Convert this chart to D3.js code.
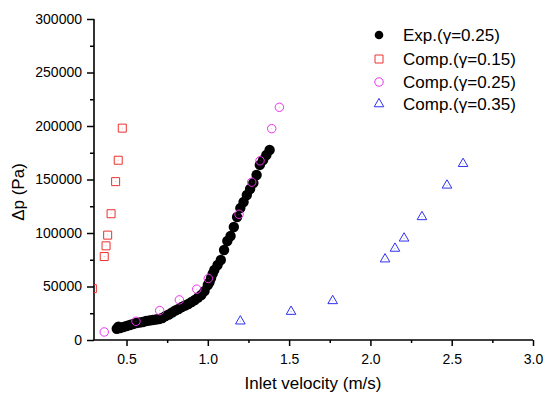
<!DOCTYPE html>
<html>
<head>
<meta charset="utf-8">
<script src="https://cdnjs.cloudflare.com/ajax/libs/d3/7.8.5/d3.min.js"></script>
<style>
  html, body { margin: 0; padding: 0; background: #fff; }
  svg { display: block; font-family: Arial, "Liberation Sans", sans-serif; }
</style>
</head>
<body>
<svg id="chart" width="544" height="395"></svg>
<script>
// ---- Data ----
const expX = [0.44,0.45,0.46,0.48,0.50,0.52,0.54,0.56,0.58,0.60,0.62,0.64,0.66,0.68,0.70,0.72,0.74,0.76,0.78,0.80,0.82,0.84,0.86,0.88,0.90,0.92,0.94,0.96,0.98,1.00,1.01,1.02,1.03,1.04,1.06,1.08,1.10,1.12,1.14,1.16,1.18,1.20,1.22,1.24,1.26,1.28,1.30,1.32,1.34,1.36,1.38];
const expY = [10500,12500,11200,12100,13100,14000,15000,15900,16400,16800,17800,18200,18700,19200,19600,20600,22400,23800,25700,27600,29000,30800,32200,33600,35500,37400,39700,42100,45800,51400,54000,57900,62000,65400,70100,74800,84100,92500,97200,105600,115000,123300,129000,135500,141100,146700,154200,163600,168200,172900,177600];

const comp15X = [0.29,0.363,0.374,0.384,0.405,0.433,0.449,0.474];
const comp15Y = [48000,78000,88000,98000,118000,148000,168000,198000];

const comp25X = [0.363,0.558,0.704,0.825,0.932,1.003,1.192,1.270,1.321,1.393,1.440];
const comp25Y = [7500,17500,27500,37500,47500,57500,117500,147500,167500,197500,217500];

const comp35X = [1.200,1.512,1.768,2.090,2.151,2.207,2.317,2.471,2.570];
const comp35Y = [18500,27500,37500,76500,86500,96000,116000,145500,165700];

const xTickValues = [0.5,1.0,1.5,2.0,2.5,3.0];
const xMinorTicks = [0.75,1.25,1.75,2.25,2.75];
const yTickValues = [0,50000,100000,150000,200000,250000,300000];
const yMinorTicks = [25000,75000,125000,175000,225000,275000];

const legendLabels = ["Exp.(\u03b3=0.25)","Comp.(\u03b3=0.15)","Comp.(\u03b3=0.25)","Comp.(\u03b3=0.35)"];
const xTitle = "Inlet velocity (m/s)";
const yTitle = "\u0394p (Pa)";

// ---- Layout ----
const svg = d3.select("#chart");
const pLeft = 94, pRight = 533, pTop = 19, pBottom = 340;

const x = d3.scaleLinear().domain([0.3, 3.0]).range([pLeft, pRight]);
const y = d3.scaleLinear().domain([0, 300000]).range([pBottom, pTop]);

const colors = { exp: "#000000", c15: "#ee3030", c25: "#ee30ee", c35: "#3030ee" };

svg.append("defs").append("clipPath").attr("id", "plotclip")
  .append("rect").attr("x", pLeft).attr("y", 0).attr("width", pRight - pLeft + 10).attr("height", pBottom);

// ---- Axes ----
const fontTick = "14px";
const xAxis = d3.axisBottom(x).tickValues(xTickValues).tickFormat(d3.format(".1f")).tickSize(6).tickSizeOuter(0);
const gx = svg.append("g").attr("transform", `translate(0,${pBottom})`).call(xAxis);
gx.select(".domain").attr("stroke-width", 1.6).attr("d", `M${pLeft},0H${pRight}`);
gx.selectAll(".tick line").attr("stroke-width", 1.5);
gx.selectAll(".tick text").attr("font-size", fontTick).attr("font-family", "Arial, 'Liberation Sans', sans-serif").attr("fill", "#000").attr("dy", "0.71em").attr("y", 14);
const gxm = svg.append("g").attr("transform", `translate(0,${pBottom})`)
  .call(d3.axisBottom(x).tickValues(xMinorTicks).tickFormat("").tickSize(3).tickSizeOuter(0));
gxm.select(".domain").remove();
gxm.selectAll(".tick line").attr("stroke-width", 1.5);

const yAxis = d3.axisLeft(y).tickValues(yTickValues).tickFormat(d3.format("d")).tickSize(7).tickSizeOuter(0);
const gy = svg.append("g").attr("transform", `translate(${pLeft},0)`).call(yAxis);
gy.select(".domain").attr("stroke-width", 1.6).attr("d", `M0,${pBottom}V${pTop}`);
gy.selectAll(".tick line").attr("stroke-width", 1.5);
gy.selectAll(".tick text").attr("font-size", fontTick).attr("font-family", "Arial, 'Liberation Sans', sans-serif").attr("fill", "#000").attr("x", -12);
const gym = svg.append("g").attr("transform", `translate(${pLeft},0)`)
  .call(d3.axisLeft(y).tickValues(yMinorTicks).tickFormat("").tickSize(4).tickSizeOuter(0));
gym.select(".domain").remove();
gym.selectAll(".tick line").attr("stroke-width", 1.5);

// Titles
svg.append("text").attr("x", 313).attr("y", 389).attr("text-anchor", "middle")
  .attr("font-size", "17px").attr("fill", "#000").text(xTitle);
svg.append("text").attr("transform", "translate(24,192) rotate(-90)").attr("text-anchor", "middle")
  .attr("font-size", "17px").attr("fill", "#000").text(yTitle);

// ---- Marks ----
const plot = svg.append("g").attr("clip-path", "url(#plotclip)");

const expData = expX.map((v, i) => ({ x: v, y: expY[i] }));
const c15Data = comp15X.map((v, i) => ({ x: v, y: comp15Y[i] }));
const c25Data = comp25X.map((v, i) => ({ x: v, y: comp25Y[i] }));
const c35Data = comp35X.map((v, i) => ({ x: v, y: comp35Y[i] }));

plot.append("g").selectAll("circle").data(expData).join("circle")
  .attr("cx", d => x(d.x)).attr("cy", d => y(d.y)).attr("r", 5.2).attr("fill", colors.exp);

const sq = d3.symbol().type(d3.symbolSquare).size(64);
const ci = d3.symbol().type(d3.symbolCircle).size(56);
const tr = d3.symbol().type(d3.symbolTriangle).size(40);

function drawSeries(data, sym, color, dy) {
  const g = plot.append("g");
  g.selectAll("path").data(data).join("path")
    .attr("transform", d => `translate(${x(d.x)},${y(d.y) + (dy||0)})`)
    .attr("d", sym).attr("fill", "none").attr("stroke", color).attr("stroke-width", 1);
  g.selectAll("rect").data(data).join("rect")
    .attr("x", d => x(d.x) - 0.5).attr("y", d => y(d.y) + (dy||0) - 0.5)
    .attr("width", 1).attr("height", 1).attr("fill", color).attr("opacity", 0.4);
}
drawSeries(c15Data, sq, colors.c15);
drawSeries(c25Data, ci, colors.c25);
drawSeries(c35Data, tr, colors.c35, 1);

// ---- Legend ----
const legendRowsY = [35, 59, 82, 104];
const lx = 379, tx = 403;
const legend = svg.append("g");
legend.append("circle").attr("cx", lx).attr("cy", legendRowsY[0]).attr("r", 4.3).attr("fill", colors.exp);
[[sq, colors.c15], [ci, colors.c25], [tr, colors.c35]].forEach((s, i) => {
  legend.append("path").attr("transform", `translate(${lx},${legendRowsY[i + 1]})`)
    .attr("d", s[0]).attr("fill", "none").attr("stroke", s[1]).attr("stroke-width", 1);
});
legend.selectAll("text").data(legendLabels).join("text")
  .attr("x", tx).attr("y", (d, i) => legendRowsY[i] + 6)
  .attr("font-size", "17px").attr("fill", "#000").text(d => d);
</script>
</body>
</html>
